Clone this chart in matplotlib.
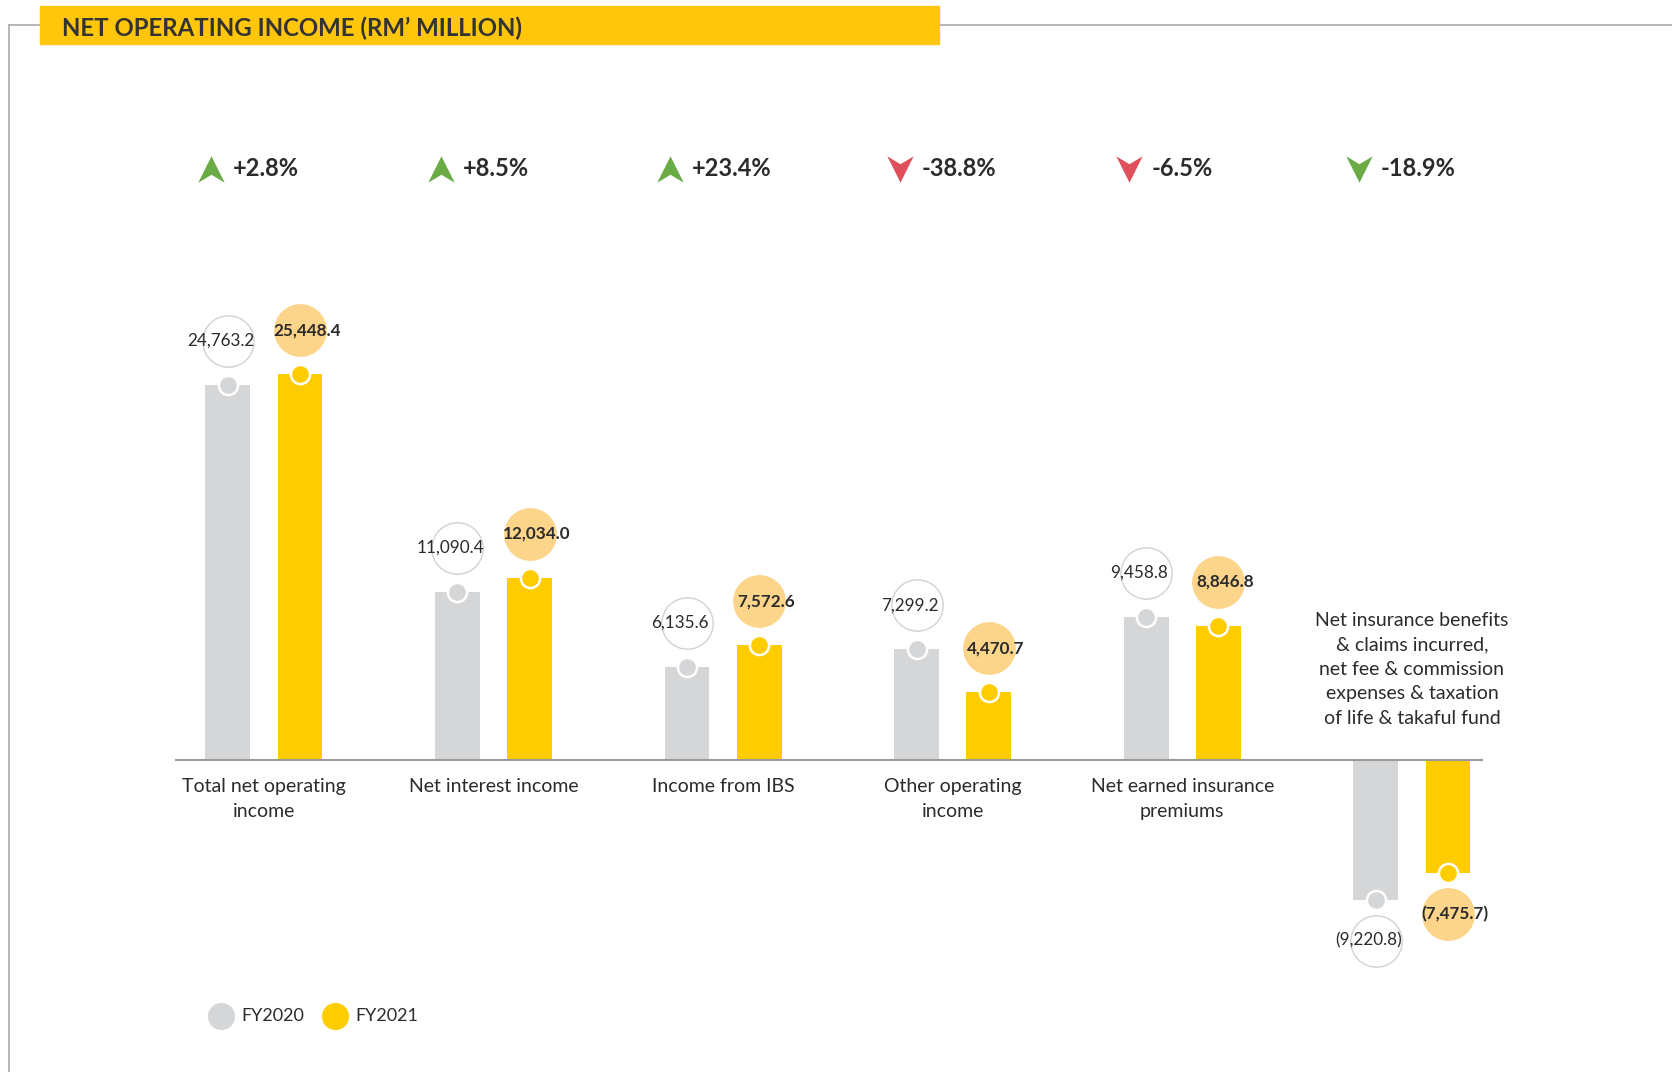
import matplotlib
matplotlib.use("Agg")
import matplotlib.pyplot as plt
import numpy as np
from matplotlib.path import Path
from matplotlib.patches import Rectangle
from matplotlib.lines import Line2D
import matplotlib.transforms as mtransforms

plt.rcParams['font.family'] = ['Lato', 'DejaVu Sans']

# ---------------- data ----------------
categories = ["Total net operating\nincome", "Net interest income", "Income from IBS",
              "Other operating\nincome", "Net earned insurance\npremiums",
              "Net insurance benefits\n& claims incurred,\nnet fee & commission\nexpenses & taxation\nof life & takaful fund"]
fy2020 = [24763.2, 11090.4, 6135.6, 7299.2, 9458.8, -9220.8]
fy2021 = [25448.4, 12034.0, 7572.6, 4470.7, 8846.8, -7475.7]
fy2020_labels = ["24,763.2", "11,090.4", "6,135.6", "7,299.2", "9,458.8", "(9,220.8)"]
fy2021_labels = ["25,448.4", "12,034.0", "7,572.6", "4,470.7", "8,846.8", "(7,475.7)"]
pct_labels = ["+2.8%", "+8.5%", "+23.4%", "-38.8%", "-6.5%", "-18.9%"]
pct_direction = ["up", "up", "up", "down", "down", "down"]
pct_good = [True, True, True, False, False, True]
series_names = ["FY2020", "FY2021"]

# ---------------- style ----------------
GRAY = "#D5D6D8"
YELLOW = "#FFCC00"
LBL_ORANGE = "#FDD58A"
GREEN = "#6AAB45"
RED = "#E0505C"
TXT = "#2B2B2B"

W, H = 1672, 1072
fig = plt.figure(figsize=(W / 100, H / 100), dpi=100)
ax = fig.add_axes([0, 0, 1, 1])
ax.axis("off")

scale = 0.015153          # px per unit
base_px = 760             # baseline from top
grp_px = 229.6
x0_px = 263.9
ax.set_ylim(-(H - base_px) / scale, base_px / scale)
ax.set_xlim(-x0_px / grp_px, (W - x0_px) / grp_px)

x = np.arange(len(categories))
off = 0.157
bw = 0.195

ax.bar(x - off, fy2020, bw, color=GRAY, zorder=2)
ax.bar(x + off, fy2021, bw, color=YELLOW, zorder=2)

# baseline
ax.plot([-0.383, 5.305], [0, 0], color="#999999", lw=1.5, zorder=3)

def offset(dx_px, dy_px):
    return ax.transData + mtransforms.ScaledTranslation(dx_px / 100, dy_px / 100, fig.dpi_scale_trans)

# value markers and labels
for i in range(len(categories)):
    for vals, labs, xo, col, lblfill, lbledge, weight, tdx in [
        (fy2020, fy2020_labels, -off, GRAY, "white", "#D2D2D2", "normal", -7),
        (fy2021, fy2021_labels, off, YELLOW, LBL_ORANGE, LBL_ORANGE, "bold", 7)]:
        v = vals[i]
        xi = x[i] + xo
        ax.plot([xi], [v], marker="o", ms=13.8, mfc=col, mec="white", mew=1.8, zorder=4)
        dy = 44 if v >= 0 else -41
        ax.plot([xi], [v], marker="o", ms=37, mfc=lblfill, mec=lbledge, mew=1.0,
                transform=offset(0, dy), zorder=4)
        ax.text(xi, v, labs[i], transform=offset(tdx, dy), ha="center", va="center",
                fontsize=12.3, fontweight=weight, color=TXT, zorder=5)

# category labels
for i, c in enumerate(categories):
    if fy2020[i] >= 0:
        ax.text(x[i], 0, c, transform=offset(0, -18), ha="center", va="top",
                fontsize=14, color=TXT, linespacing=1.54)
    else:
        ax.text(x[i], 0, c, transform=offset(0, 33), ha="center", va="bottom",
                fontsize=14, color=TXT, linespacing=1.54)

# percentage change with chevrons
up_path = Path([(0, 1), (1, -1), (0, -0.4), (-1, -1), (0, 1)],
               [Path.MOVETO, Path.LINETO, Path.LINETO, Path.LINETO, Path.CLOSEPOLY])
down_path = Path([(0, -1), (1, 1), (0, 0.4), (-1, 1), (0, -1)],
                 [Path.MOVETO, Path.LINETO, Path.LINETO, Path.LINETO, Path.CLOSEPOLY])
pct_y = 1 - 169 / H
btr = mtransforms.blended_transform_factory(ax.transData, fig.transFigure)
for i, p in enumerate(pct_labels):
    col = GREEN if pct_good[i] else RED
    mk = up_path if pct_direction[i] == "up" else down_path
    tr_a = btr + mtransforms.ScaledTranslation(-53 / 100, 0, fig.dpi_scale_trans)
    tr_t = btr + mtransforms.ScaledTranslation(-31 / 100, 0, fig.dpi_scale_trans)
    ax.plot([x[i]], [pct_y], marker=mk, ms=19, mfc=col, mec=col, mew=0, transform=tr_a)
    ax.text(x[i], pct_y, p, transform=tr_t, ha="left", va="center",
            fontsize=17, fontweight="bold", color=TXT)

# frame lines
fig.add_artist(Line2D([8.5 / W, 1], [1 - 24.5 / H, 1 - 24.5 / H], color="#AAAAAA", lw=1.2))
fig.add_artist(Line2D([8.5 / W, 8.5 / W], [0, 1 - 24.5 / H], color="#AAAAAA", lw=1.2))

# title box
fig.add_artist(Rectangle((39.5 / W, 1 - 43.7 / H), (939 - 39.5) / W, (43.7 - 6.4) / H,
                         transform=fig.transFigure, color="#FFC60B", zorder=3))
fig.text(62 / W, 1 - 28 / H, "NET OPERATING INCOME (RM\u2019 MILLION)", ha="left", va="center",
         fontsize=17.3, fontweight="bold", color="#333333", zorder=4)

# legend
for lx, name, col in [(220.7, series_names[0], GRAY), (334.8, series_names[1], YELLOW)]:
    fig.add_artist(Line2D([lx / W], [1 - 1016 / H], marker="o", ms=18.5, mfc=col, mec=col,
                          transform=fig.transFigure))
    fig.text((lx + 21) / W, 1 - 1016 / H, name, ha="left", va="center", fontsize=13, color=TXT)

fig.savefig("out.png", dpi=100)
